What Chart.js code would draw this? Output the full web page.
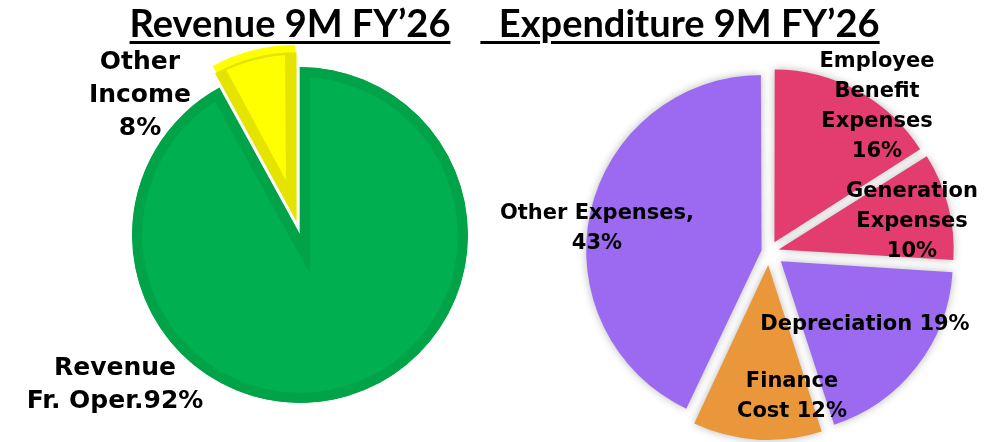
<!DOCTYPE html>
<html>
<head>
<meta charset="utf-8">
<script src="https://cdn.jsdelivr.net/npm/chart.js@4"></script>
<style>
  body { margin: 0; background: #fff; width: 991px; height: 442px; overflow: hidden; position: relative; }
  canvas { position: absolute; top: 0; }
  #revChart { left: 0; }
  #expChart { left: 495px; }
  .title {
    position: absolute; top: 3px; width: 400px; text-align: center; z-index: 2;
    font: bold 38px Lato, sans-serif; line-height: 38px; color: #000; white-space: pre;
    text-decoration: underline; text-decoration-thickness: 3px; text-underline-offset: 4px;
  }
</style>
</head>
<body>
<div class="title" style="left:90px">Revenue 9M FY’26</div>
<div class="title" style="left:480px">  Expenditure 9M FY’26</div>
<canvas id="revChart" width="495" height="442"></canvas>
<canvas id="expChart" width="496" height="442"></canvas>
<script>
// data
const revLabels = ['Revenue Fr. Oper.', 'Other Income'];
const revValues = [92, 8];
const expLabels = ['Employee Benefit Expenses', 'Generation Expenses', 'Depreciation', 'Finance Cost', 'Other Expenses'];
const expValues = [16, 10, 19, 12, 43];

// how each label is broken into lines ({v} = value)
const revText = [['Revenue', 'Fr. Oper.{v}%'], ['Other', 'Income', '{v}%']];
const expText = [['Employee', 'Benefit', 'Expenses', '{v}%'], ['Generation', 'Expenses', '{v}%'],
                 ['Depreciation {v}%'], ['Finance', 'Cost {v}%'], ['Other Expenses,', '{v}%']];

// label block centres relative to the pie centre (px)
const revTextPos = [[-185, 150], [-160, -140]];
const expTextPos = [[108, -145], [143, -30], [96, 73], [23, 145], [-172, -23]];

// how far each slice is pulled out (px)
const revShift = [0, 23];
const expShift = [13, 14, 16, 17, 12];

// chart.js moves an arc by offset/4 * (1 + fix), turn a pixel shift into that offset
function toOffset(shifts, values) {
  const total = values.reduce((a, b) => a + b, 0);
  return shifts.map((s, i) => {
    const circ = values[i] / total * Math.PI * 2;
    const fix = 1 - Math.sin(Math.min(Math.PI, circ));
    return s * 4 / (1 + fix);
  });
}

function makeLabels(text, pos, size, lineHeight) {
  return {
    id: 'sliceLabels',
    afterDatasetsDraw(chart) {
      const ctx = chart.ctx;
      const area = chart.chartArea;
      const cx = (area.left + area.right) / 2;
      const cy = (area.top + area.bottom) / 2;
      const values = chart.data.datasets[0].data;
      ctx.save();
      ctx.font = 'bold ' + size + 'px "DejaVu Sans"';
      ctx.fillStyle = '#000';
      ctx.textAlign = 'center';
      ctx.textBaseline = 'middle';
      text.forEach((lines, i) => {
        const y0 = cy + pos[i][1] - (lines.length - 1) * lineHeight / 2;
        lines.forEach((line, j) => {
          ctx.fillText(line.replace('{v}', values[i]), cx + pos[i][0], y0 + j * lineHeight);
        });
      });
      ctx.restore();
    }
  };
}

const shadow = {
  id: 'shadow',
  beforeDatasetsDraw(chart) {
    const c = chart.ctx;
    c.save();
    c.shadowColor = 'rgba(0,0,0,0.28)';
    c.shadowBlur = 8;
  },
  afterDatasetsDraw(chart) {
    chart.ctx.restore();
  }
};

// Revenue pie
new Chart(document.getElementById('revChart'), {
  type: 'pie',
  data: {
    labels: revLabels,
    datasets: [{
      data: revValues,
      backgroundColor: ['#00B050', '#FFFF00'],
      borderColor: ['#00A348', '#E4E400'],
      borderWidth: 10,
      borderAlign: 'inner',
      borderJoinStyle: 'miter',
      offset: toOffset(revShift, revValues)
    }]
  },
  options: {
    responsive: false,
    animation: false,
    events: [],
    radius: 168,
    layout: { padding: { left: 105, top: 28 } },
    plugins: { legend: { display: false }, tooltip: { enabled: false } }
  },
  plugins: [makeLabels(revText, revTextPos, 25, 33)]
});

// Expenditure pie
new Chart(document.getElementById('expChart'), {
  type: 'pie',
  data: {
    labels: expLabels,
    datasets: [{
      data: expValues,
      backgroundColor: ['#E33D6F', '#E33D6F', '#9B6AF0', '#EA963B', '#9B6AF0'],
      borderWidth: 0,
      offset: toOffset(expShift, expValues)
    }]
  },
  options: {
    responsive: false,
    animation: false,
    events: [],
    radius: 171,
    layout: { padding: { left: 52, top: 62 } },
    plugins: { legend: { display: false }, tooltip: { enabled: false } }
  },
  plugins: [shadow, makeLabels(expText, expTextPos, 21, 30)]
});
</script>
</body>
</html>
